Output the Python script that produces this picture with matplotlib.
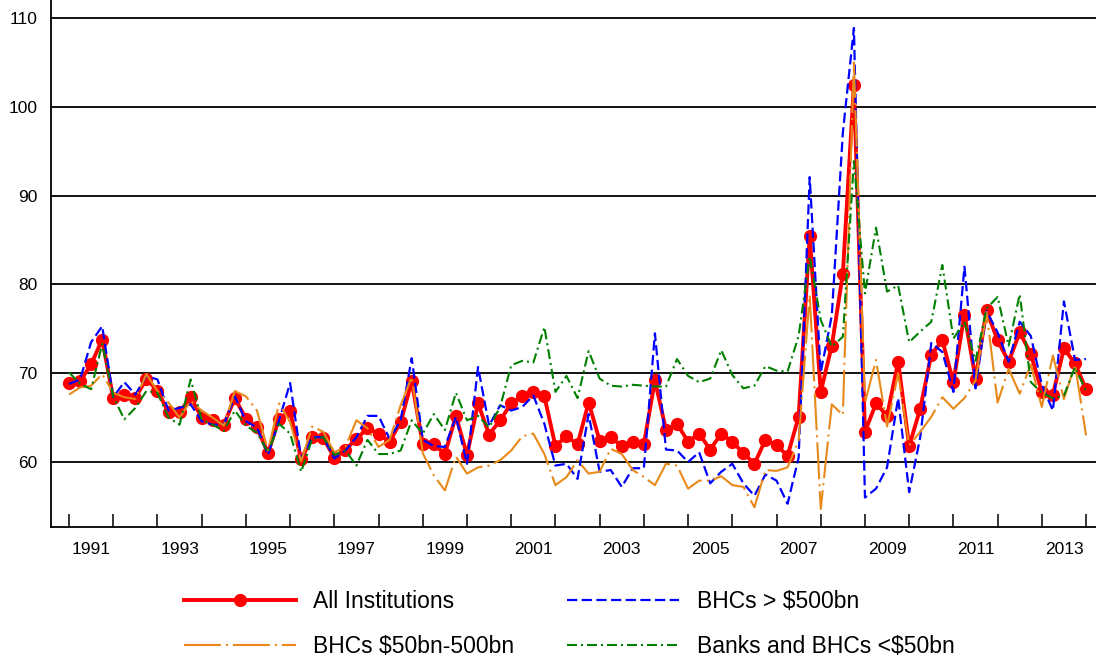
import numpy as np
import matplotlib
matplotlib.use("Agg")
from matplotlib import pyplot as plt

plt.rcParams["font.family"] = ["Liberation Sans", "DejaVu Sans"]

# quarterly observations, first point at the 1991 tick
all_inst = [68.9, 69.1, 71.0, 73.8, 67.2, 67.5, 67.2, 69.4, 68.0, 65.6,
            65.6, 67.3, 65.0, 64.7, 64.2, 67.2, 64.9, 63.9, 61.0, 64.9,
            65.7, 60.3, 62.8, 62.7, 60.5, 61.4, 62.6, 63.8, 63.2, 62.3,
            64.5, 69.1, 62.0, 62.0, 60.9, 65.2, 60.8, 66.6, 63.1, 64.7,
            66.6, 67.4, 67.9, 67.4, 61.8, 62.9, 62.0, 66.7, 62.4, 62.8,
            61.8, 62.3, 62.0, 69.2, 63.6, 64.3, 62.3, 63.2, 61.4, 63.2,
            62.3, 61.0, 59.8, 62.5, 61.9, 60.7, 65.1, 85.5, 67.9, 73.1,
            81.2, 102.5, 63.4, 66.6, 65.2, 71.3, 61.8, 66.0, 72.1, 73.7,
            69.0, 76.6, 69.4, 77.1, 73.7, 71.3, 74.6, 72.2, 67.9, 67.6,
            72.8, 71.1, 68.2]

bhc_large = [68.8, 69.3, 73.5, 75.3, 67.3, 69.0, 67.6, 69.7, 69.3, 65.8,
             66.1, 66.5, 64.6, 64.2, 64.2, 67.4, 64.6, 63.9, 60.8, 64.7,
             68.9, 60.4, 62.8, 62.8, 60.4, 61.3, 62.8, 65.2, 65.2, 62.6,
             64.7, 71.7, 62.5, 61.8, 61.7, 65.1, 59.8, 70.7, 64.1, 66.4,
             65.8, 66.2, 67.5, 64.3, 59.6, 59.8, 58.1, 65.4, 58.9, 59.1,
             57.2, 59.3, 59.3, 74.5, 61.4, 61.3, 60.0, 61.1, 57.6, 58.9,
             59.8, 57.6, 56.2, 58.6, 57.9, 55.3, 60.5, 92.1, 70.1, 76.5,
             97.1, 108.9, 56.0, 57.0, 59.4, 67.2, 56.6, 62.8, 73.4, 72.4,
             67.9, 82.0, 68.3, 77.0, 74.6, 71.3, 75.8, 74.2, 68.7, 65.8,
             78.1, 71.5, 71.6]

bhc_mid = [67.6, 68.4, 68.6, 69.9, 67.8, 67.3, 67.1, 69.9, 68.0, 66.7,
           65.0, 66.9, 65.8, 65.0, 64.1, 68.0, 67.4, 65.8, 61.3, 66.6,
           64.5, 60.1, 64.0, 63.4, 61.1, 61.7, 64.7, 63.8, 61.7, 62.5,
           66.4, 69.6, 61.0, 58.5, 56.8, 60.6, 58.7, 59.4, 59.6, 60.2,
           61.3, 62.9, 63.2, 60.9, 57.4, 58.3, 60.2, 58.7, 58.9, 61.5,
           60.9, 59.1, 58.3, 57.4, 59.8, 59.6, 57.0, 57.9, 57.9, 58.4,
           57.4, 57.2, 54.9, 59.1, 59.0, 59.4, 62.4, 78.8, 54.7, 66.5,
           65.3, 105.0, 66.7, 71.5, 64.0, 70.0, 61.9, 63.4, 65.1, 67.3,
           66.0, 67.2, 69.2, 76.9, 66.7, 70.5, 67.7, 71.0, 66.2, 72.0,
           67.1, 71.0, 63.0]

banks_small = [70.1, 68.8, 68.2, 73.3, 67.4, 64.8, 66.1, 68.0, 67.8, 65.0,
               64.2, 69.3, 64.8, 64.2, 63.5, 65.8, 64.1, 63.3, 61.1, 64.3,
               63.2, 58.9, 62.6, 62.8, 60.8, 61.3, 59.6, 62.5, 60.9, 60.9,
               61.3, 64.7, 63.2, 65.4, 63.6, 67.8, 64.7, 65.2, 63.9, 66.2,
               70.9, 71.4, 71.2, 75.2, 67.9, 69.7, 67.2, 72.5, 69.4, 68.6,
               68.5, 68.7, 68.6, 68.5, 68.5, 71.6, 69.7, 69.0, 69.4, 72.6,
               69.8, 68.3, 68.6, 70.8, 70.3, 70.2, 74.2, 83.2, 76.0, 73.0,
               74.1, 93.9, 79.0, 86.4, 79.2, 79.9, 73.5, 74.7, 75.8, 82.2,
               73.9, 75.8, 71.4, 77.3, 78.6, 73.1, 78.9, 69.0, 67.8, 67.2,
               67.5, 70.7, 68.0]

years = list(range(1991, 2014, 2))
y_ticks = [60, 70, 80, 90, 100, 110]

x = np.arange(len(all_inst))

fig = plt.figure(figsize=(10.96, 6.62), dpi=100)
ax = fig.add_axes([51 / 1096, 1 - 527 / 662, 1 - 51 / 1096, 527 / 662])

l_all, = ax.plot(x, all_inst, color="#ff0000", lw=2.8, marker="o", ms=8.5,
                 label="All Institutions", zorder=3)
l_large, = ax.plot(x, bhc_large, color="#0000ff", lw=1.6, dashes=(4.6, 2.0),
                   label="BHCs > $500bn", zorder=4)
l_mid, = ax.plot(x, bhc_mid, color="#e8891a", lw=1.5,
                 dashes=(17.7, 2.4, 1.0, 2.4),
                 label="BHCs $50bn-500bn", zorder=4)
l_small, = ax.plot(x, banks_small, color="#008000", lw=1.5,
                   dashes=(4.8, 1.9, 1.0, 1.9),
                   label="Banks and BHCs <$50bn", zorder=4)

ax.set_xlim(-1.63, 92.9)
ax.set_ylim(52.68, 112.05)

ax.set_yticks(y_ticks)
ax.yaxis.grid(True, color="black", lw=1.3)
ax.set_axisbelow(True)
ax.tick_params(axis="y", length=0, pad=9.5, labelsize=12.5)

# year boundaries as ticks, labels centred between them
ax.set_xticks(np.arange(0, 93, 4))
ax.set_xticklabels([])
ax.set_xticks([2 + 8 * k for k in range(len(years))], minor=True)
ax.set_xticklabels([str(y) for y in years], minor=True)
ax.tick_params(axis="x", which="major", direction="in", length=9.5, width=1.1)
ax.tick_params(axis="x", which="minor", length=0, pad=11, labelsize=12.5)

for s in ["top", "right"]:
    ax.spines[s].set_visible(False)
for s in ["left", "bottom"]:
    ax.spines[s].set_linewidth(1.3)

# legend filled row by row like the original
handles = [l_all, l_mid, l_large, l_small]
fig.legend(handles, [h.get_label() for h in handles],
           loc="center", bbox_to_anchor=(569 / 1096, 1 - 624 / 662),
           ncol=2, frameon=False, fontsize=16.5, handlelength=4.9,
           handletextpad=0.75, columnspacing=2.3, labelspacing=0.95)

plt.savefig("out.png", dpi=100)
